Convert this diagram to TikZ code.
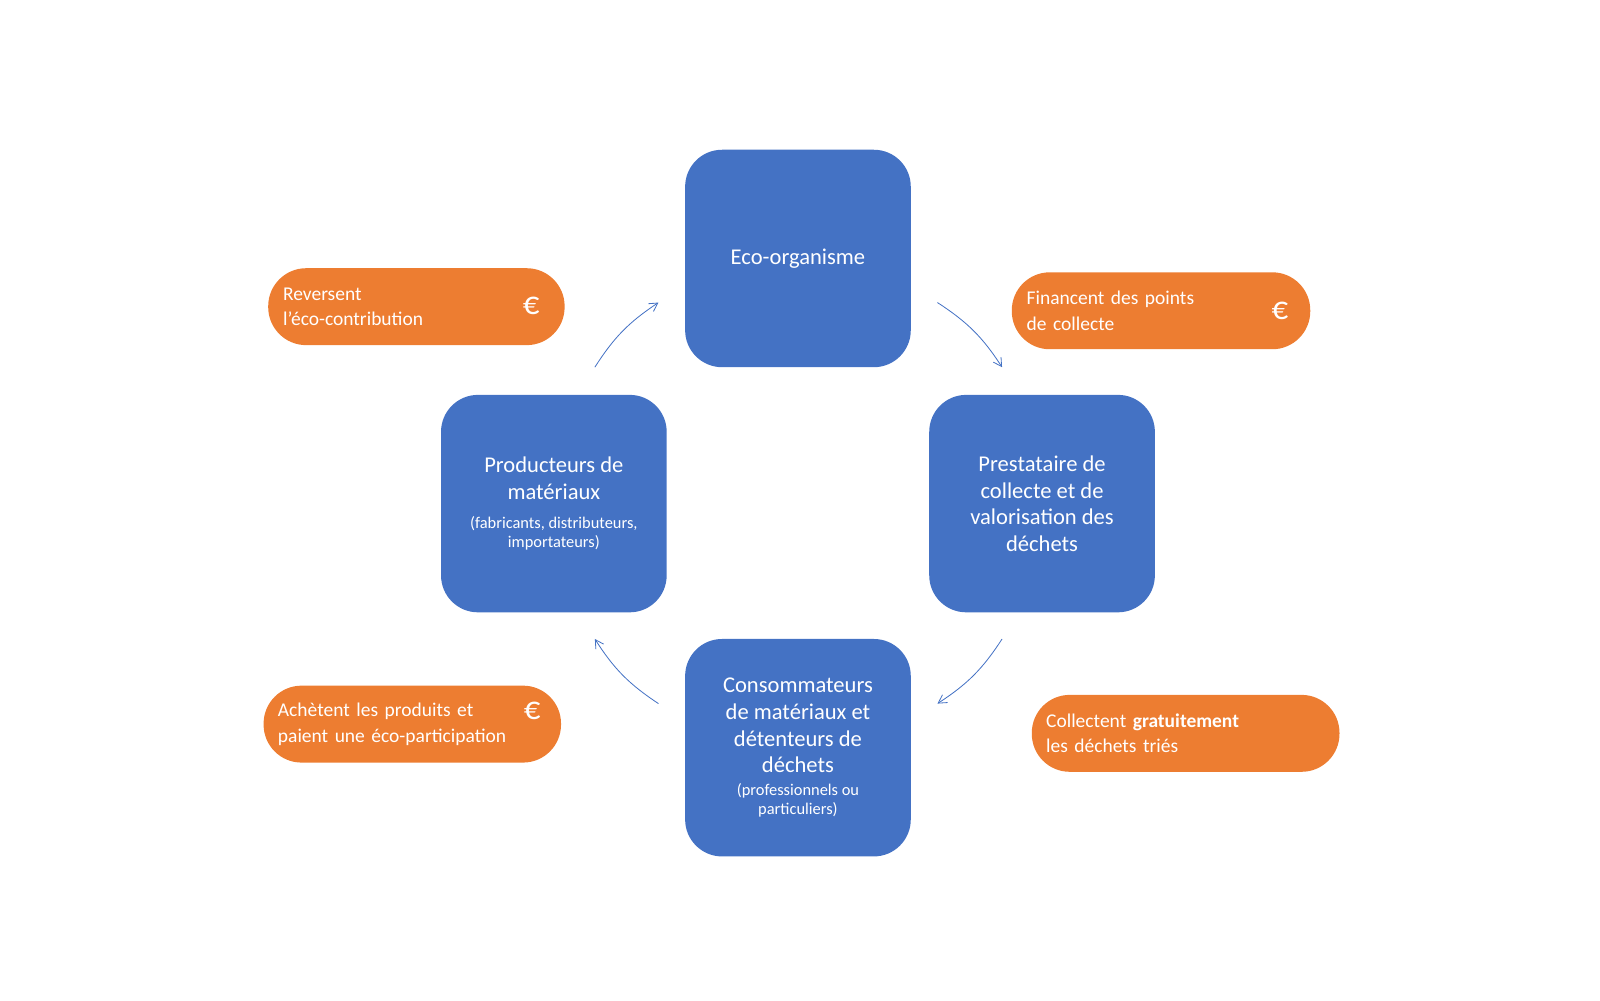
\documentclass[tikz,border=0pt]{standalone}
\usepackage{fontspec}
\usetikzlibrary{arrows.meta}
\setmainfont{Carlito}
\definecolor{bx}{HTML}{4472C4}
\definecolor{or}{HTML}{ED7D31}
\newcommand{\sml}{\fontsize{16}{19}\selectfont}
\begin{document}
\begin{tikzpicture}[x=1pt,y=-1pt,
  box/.style={fill=bx,draw=none,rounded corners=36pt,minimum width=220pt,minimum height=212pt,text=white,align=center,font=\fontsize{22}{26}\selectfont},
  pill/.style={fill=or,draw=none,rounded corners=37pt,minimum height=75pt,text=white,align=left,font=\fontsize{19}{25}\selectfont},
  eur/.style={text=white,font=\fontsize{32}{32}\selectfont},
  arr/.style={draw=bx,line width=0.8pt,-{Straight Barb[length=8pt,width=9pt]}}]
\useasboundingbox (0,0) rectangle (1560,975);
\node[box] (eco) at (778,252) {Eco-organisme};
\node[box] (prod) at (540,491) {Producteurs de\\matériaux\\[2pt]{\sml(fabricants, distributeurs,}\\[-7pt]{\sml importateurs)}};
\node[box] (prest) at (1016,491) {Prestataire de\\collecte et de\\valorisation des\\déchets};
\node[box] (cons) at (778,729) {Consommateurs\\de matériaux et\\détenteurs de\\déchets\\[-4pt]{\sml(professionnels ou}\\[-7pt]{\sml particuliers)}};

\node[pill,minimum width=289pt,text width=260pt] (p1) at (406,299) {Reversent\\l’éco-contribution};
\node[eur] (e1) at (518,298) {€};
\node[pill,minimum width=291pt,text width=262pt] (p2) at (1132,303) {Financent des points\\de collecte};
\node[eur] (e2) at (1248,303) {€};
\node[pill,minimum width=290pt,text width=262pt] (p3) at (402,706) {Achètent les produits et\\paient une éco-participation};
\node[eur] (e3) at (519,693) {€};
\node[pill,minimum width=300pt,text width=272pt] (p4) at (1156,715) {Collectent \textbf{gratuitement}\\les déchets triés};

\coordinate (a1) at (580,358); \coordinate (b1) at (642,295);
\coordinate (a2) at (914,295); \coordinate (b2) at (977,358);
\coordinate (a3) at (977,623); \coordinate (b3) at (914,686);
\coordinate (a4) at (642,686); \coordinate (b4) at (580,623);
\draw[arr] (a1) to[bend left=12] (b1);
\draw[arr] (a2) to[bend left=12] (b2);
\draw[arr] (a3) to[bend left=12] (b3);
\draw[arr] (a4) to[bend left=12] (b4);
\end{tikzpicture}
\end{document}
